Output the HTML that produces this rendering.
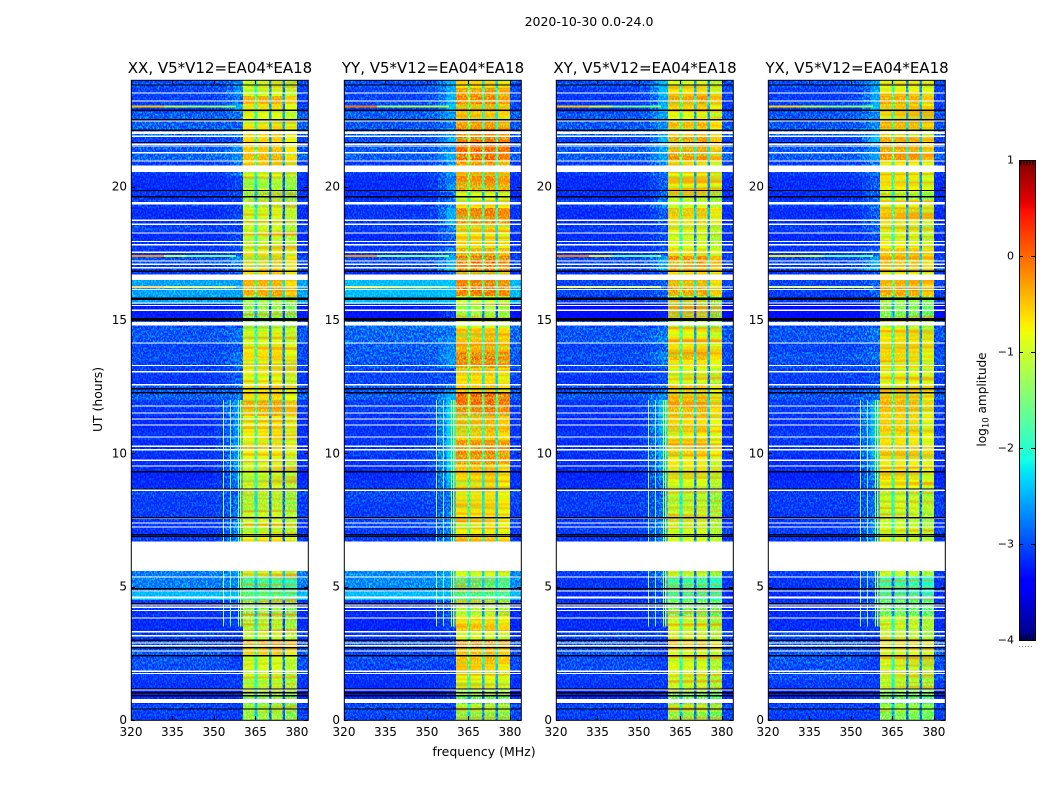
<!DOCTYPE html>
<html lang="en">
<head>
<meta charset="utf-8">
<title>2020-10-30 0.0-24.0 amplitude waterfall</title>
<style>
  html, body { margin: 0; padding: 0; background: #fff; }
  svg { display: block; }
  text { font-family: "DejaVu Sans", "Liberation Sans", sans-serif; fill: #000; }
  .heat rect { shape-rendering: crispEdges; }
  .crisp line, .crisp rect { shape-rendering: crispEdges; }
</style>
</head>
<body>
<svg id="chart" xmlns="http://www.w3.org/2000/svg" width="1050" height="800" viewBox="0 0 1050 800">
  <defs>
    <filter id="grain" x="0" y="0" width="100%" height="100%" color-interpolation-filters="sRGB">
      <feTurbulence type="fractalNoise" baseFrequency="0.62 0.42" numOctaves="2" seed="7"/>
      <feColorMatrix type="matrix" values="3.4 0 0 0 -1.4  3.4 0 0 0 -1.4  3.4 0 0 0 -1.4  0 0 0 0 0.62"/>
    </filter>
    <filter id="hot-streaks" x="0" y="0" width="100%" height="100%" color-interpolation-filters="sRGB">
      <feTurbulence type="fractalNoise" baseFrequency="0.008 0.3" numOctaves="1" seed="11"/>
      <feColorMatrix type="matrix" values="0 0 0 0 1  0 0 0 0 0.5  0 0 0 0 0  2.4 0 0 0 -1.1"/>
    </filter>
    <filter id="cool-streaks" x="0" y="0" width="100%" height="100%" color-interpolation-filters="sRGB">
      <feTurbulence type="fractalNoise" baseFrequency="0.01 0.35" numOctaves="1" seed="23"/>
      <feColorMatrix type="matrix" values="0 0 0 0 0.45  0 0 0 0 1  0 0 0 0 0.3  2.2 0 0 0 -1.1"/>
    </filter>
  </defs>
  <text x="589" y="26" font-size="12.5" text-anchor="middle">2020-10-30 0.0-24.0</text>
  <text x="484" y="756" font-size="12.5" text-anchor="middle">frequency (MHz)</text>
  <text x="0" y="0" font-size="12.4" text-anchor="middle" transform="translate(102,399.5) rotate(-90)">UT (hours)</text>
  <text x="0" y="0" font-size="12.1" text-anchor="middle" transform="translate(986,399.5) rotate(-90)">log<tspan font-size="8.5" dy="2.5">10</tspan><tspan dy="-2.5"> amplitude</tspan></text>
</svg>
<script>
// ---- shared axes ----
const panelTitles = ["XX, V5*V12=EA04*EA18", "YY, V5*V12=EA04*EA18", "XY, V5*V12=EA04*EA18", "YX, V5*V12=EA04*EA18"];
const xTicks = [320, 335, 350, 365, 380];
const yTicks = [0, 5, 10, 15, 20];
const cbarTicks = [1, 0, -1, -2, -3, -4];
const cbarTickLabels = ["1", "0", "\u22121", "\u22122", "\u22123", "\u22124"];

// ---- time rows (UT at top edge of each row, top of plot first) ----
const rowTopUT = [24,23.7,23.4,23.1,22.8,22.5,22.2,21.9,21.6,21.3,21,20.7,20.4,20.1,19.8,19.5,19.2,18.9,18.6,18.3,
  18,17.7,17.4,17.1,16.8,16.5,16.2,15.9,15.6,15.3,15,14.7,14.4,14.1,13.8,13.5,13.2,12.9,12.6,12.3,
  12,11.7,11.4,11.1,10.8,10.5,10.2,9.9,9.6,9.3,9,8.7,8.4,8.1,7.8,7.5,7.2,6.9,6.6,6.3,
  6,5.7,5.4,5.1,4.8,4.5,4.2,3.9,3.6,3.3,3,2.7,2.4,2.1,1.8,1.5,1.2,0.9,0.6,0.3];
const rowHours = 0.3;

// ---- frequency channels ----
const offFreqEdges = [320, 345, 350, 354, 357, 360.5];
const offMix = [0, 0.03, 0.15, 0.55, 1];
const goldFreqEdges = [360.5, 364.7, 365.7, 369.9, 370.8, 374.8, 375.7, 380];
const edgeFreqEnd = 384;

// ---- log10 amplitude by row: XX ----
const xxOff = [-2.9,-2.95,-3,-3,-2.8,-2.8,-2.75,-3,-2.85,-2.75,-3,-3,-3.1,-3.1,-3.05,-3,-3.1,-3.1,-2.95,-3.1,
  -3.05,-3.05,-2.9,-3,-3,-2.5,-2.5,-2.5,-3.2,-3.2,-2.9,-2.85,-2.85,-2.95,-2.9,-2.95,-3,-3.05,-2.85,-2.8,
  -3,-3.05,-3.1,-3.1,-3.05,-3.1,-3.05,-3.1,-3.1,-3.15,-3.1,-2.95,-3,-3,-3,-3.05,-3.05,-3,-3,-3,
  -3,-2.65,-2.65,-2.65,-2.4,-3,-3.05,-3.1,-3.1,-3,-2.85,-2.85,-2.85,-2.9,-3,-3.05,-3.2,-3.1,-2.95,-3];
const xxShoulder = [-2.6,-2.6,-2.7,-2.5,-2.7,-2.8,-2.6,-2.8,-2.6,-2.6,-2.7,-2.7,-2.95,-2.95,-2.95,-2.95,-2.95,-2.9,-2.95,-2.95,
  -2.9,-2.9,-2.6,-2.7,-2.9,-2.5,-2.5,-2.5,-3.1,-3.1,-2.85,-2.7,-2.7,-2.85,-2.7,-2.7,-2.85,-2.8,-2.7,-2.7,
  -2.55,-2.55,-2.55,-2.55,-2.6,-2.55,-2.55,-2.55,-2.55,-2.6,-2.7,-2.8,-2.7,-2.7,-2.7,-2.6,-2.6,-2.6,-2.6,-2.6,
  -2.6,-2.6,-2.6,-2.6,-2.4,-2.85,-2.95,-2.95,-3,-3,-2.95,-2.95,-3,-3,-3,-3,-3.1,-3,-3,-3];
const xxGold = [-1.1,-1,-0.6,-0.8,-1,-0.85,-0.8,-0.8,-0.7,-0.65,-0.8,-1,-1.2,-1.25,-1.4,-1.25,-1,-1.05,-1.1,-1.1,
  -1.05,-0.9,-0.7,-0.75,-0.8,-0.65,-0.6,-1.3,-1.4,-1.45,-1.3,-1,-1,-0.85,-0.8,-1,-0.95,-1,-0.85,-0.8,
  -0.6,-0.65,-0.9,-0.85,-0.9,-0.85,-0.9,-0.95,-1,-1.05,-1.1,-1.2,-1.25,-1.2,-1.1,-1.1,-1.05,-0.9,-1.1,-1.1,
  -1.1,-1.1,-2,-1.9,-1.9,-1.5,-1.4,-1.25,-1.2,-1.1,-0.6,-0.75,-1,-1.05,-1.1,-1.1,-1.3,-1.5,-1.3,-1.35];
const xxGoldOffset = [0.12, -1, 0.15, -1.7, 0.17, -1.8, 0];

// ---- YY ----
const yyOff = [-2.9,-2.95,-2.95,-2.95,-2.8,-2.85,-2.8,-2.9,-2.85,-2.8,-3,-3,-3.1,-3.1,-3.1,-3,-3.05,-3.05,-3,-3.1,
  -3.05,-3,-2.95,-3,-3.1,-2.4,-2.4,-2.4,-3.2,-3.25,-2.7,-2.75,-2.75,-2.8,-2.8,-2.85,-2.95,-2.95,-2.85,-2.8,
  -3,-3,-3.05,-3.05,-3.05,-3.05,-3,-3.05,-3.1,-3.1,-3.05,-2.9,-2.95,-3,-3,-2.95,-3,-3,-3,-3,
  -3,-2.6,-2.6,-2.6,-2.4,-3,-3.1,-3.15,-3.15,-3.05,-2.85,-2.95,-2.9,-2.95,-3.05,-3.1,-3.25,-3.1,-2.9,-2.95];
const yyShoulder = [-2.45,-2.45,-2.45,-2.35,-2.55,-2.65,-2.55,-2.45,-2.55,-2.45,-2.55,-2.55,-2.65,-2.55,-2.75,-2.65,-2.45,-2.45,-2.65,-2.75,
  -2.8,-2.65,-2.45,-2.45,-2.8,-2.35,-2.35,-2.35,-3,-3,-2.6,-2.7,-2.6,-2.6,-2.55,-2.55,-2.85,-2.85,-2.6,-2.45,
  -2.35,-2.3,-2.3,-2.3,-2.35,-2.3,-2.3,-2.3,-2.3,-2.35,-2.45,-2.7,-2.7,-2.7,-2.6,-2.6,-2.6,-2.6,-2.6,-2.6,
  -2.6,-2.5,-2.5,-2.5,-2.4,-2.75,-2.85,-2.95,-2.95,-3,-2.9,-2.9,-2.9,-3,-3,-3,-3.1,-3,-3,-3];
const yyGold = [-0.8,-0.5,-0.4,-0.6,-0.7,-0.5,-0.45,-0.25,-0.2,-0.3,-0.5,-0.6,-0.45,-0.5,-1,-0.8,-0.35,-0.4,-0.7,-0.85,
  -0.8,-0.55,-0.3,-0.4,-0.6,-0.35,-0.35,-1.1,-1.2,-1.3,-1,-0.7,-0.65,-0.6,-0.35,-0.4,-0.7,-0.8,-0.7,-0.25,
  -0.3,-0.35,-0.65,-0.6,-0.7,-0.45,-0.4,-0.45,-0.7,-0.75,-0.8,-0.85,-0.8,-0.8,-0.85,-0.85,-0.85,-0.7,-1,-1,
  -1,-1,-1.85,-1.75,-1.85,-1.35,-1.2,-0.8,-0.7,-1,-0.45,-0.65,-0.65,-0.8,-0.95,-1,-1.3,-1.6,-1.2,-1.4];
const yyGoldOffset = [0.12, -0.9, 0.12, -1.4, 0.14, -1.5, 0.04];

// ---- XY ----
const xyOff = [-2.9,-3,-3.05,-3.05,-2.85,-2.85,-2.8,-3,-2.85,-2.8,-3,-3,-3.1,-3.1,-3.1,-3,-3.1,-3.1,-3,-3.1,
  -3.05,-3.05,-2.95,-3,-3.05,-2.95,-2.95,-3,-3.3,-3.3,-2.9,-2.85,-2.85,-2.95,-2.9,-2.95,-3,-3.05,-2.9,-2.85,
  -3.05,-3.05,-3.1,-3.1,-3.05,-3.1,-3.05,-3.1,-3.1,-3.15,-3.1,-3,-3,-3,-3.05,-3.05,-3,-3.05,-3,-3,
  -3,-3,-3.05,-3.05,-3.1,-3.05,-3.1,-3.1,-3.1,-2.95,-2.85,-2.85,-2.9,-2.9,-3,-3.05,-3.2,-3.1,-2.95,-3];
const xyShoulder = [-2.4,-2.4,-2.5,-2.4,-2.5,-2.6,-2.5,-2.4,-2.5,-2.5,-2.6,-2.7,-2.8,-2.8,-2.8,-2.6,-2.8,-2.8,-2.9,-2.9,
  -2.9,-2.9,-2.5,-2.5,-2.9,-2.8,-2.8,-2.9,-3.2,-3.2,-2.8,-2.7,-2.6,-2.8,-2.6,-2.7,-2.9,-2.9,-2.7,-2.6,
  -2.4,-2.4,-2.4,-2.4,-2.5,-2.5,-2.4,-2.5,-2.5,-2.6,-2.7,-2.8,-2.7,-2.7,-2.7,-2.6,-2.6,-2.6,-2.6,-2.6,
  -2.6,-2.7,-2.8,-2.8,-2.9,-2.8,-2.9,-3,-3,-3,-3,-3,-3,-3,-3,-3,-3.1,-3,-3,-3];
const xyGold = [-1,-0.8,-0.5,-0.7,-0.9,-0.6,-0.75,-0.5,-0.55,-0.45,-0.8,-0.9,-0.8,-0.85,-1.2,-1,-0.65,-0.75,-1,-1.05,
  -1,-0.75,-0.45,-0.6,-0.8,-0.6,-0.5,-1.3,-1.35,-1.4,-1.2,-0.9,-0.85,-0.8,-0.6,-0.8,-0.95,-1,-0.7,-0.65,
  -0.55,-0.6,-0.8,-0.65,-0.85,-0.75,-0.7,-0.85,-0.9,-0.95,-1,-1.15,-1.2,-1.1,-1.1,-1.1,-1.05,-1,-1.1,-1.1,
  -1.1,-1.1,-2,-1.95,-1.95,-1.55,-1.5,-1.1,-1,-1.05,-0.7,-0.9,-1,-1,-1.05,-1.1,-1.4,-1.55,-1.15,-1.4];
const xyGoldOffset = [0.12, -1, 0.1, -1.6, 0.12, -1.7, -0.06];

// ---- YX ----
const yxOff = [-2.9,-3,-3,-3,-2.85,-2.85,-2.8,-3,-2.85,-2.8,-3,-3,-3.1,-3.1,-3.1,-3,-3.1,-3.1,-3,-3.1,
  -3.05,-3.05,-2.95,-3,-3.05,-2.95,-3,-3,-3.3,-3.3,-2.9,-2.85,-2.85,-2.95,-2.85,-2.9,-2.95,-3,-2.9,-2.85,
  -3,-3,-3.05,-3.05,-3,-3.05,-3.05,-3.1,-3.1,-3.15,-3.1,-3,-3,-3,-3.05,-3.05,-3,-3.05,-3,-3,
  -3,-3,-3.05,-3.05,-3.1,-3.05,-3.1,-3.1,-3.1,-2.95,-2.8,-2.85,-2.85,-2.9,-2.9,-3,-3.2,-3.1,-2.95,-3];
const yxShoulder = [-2.5,-2.5,-2.5,-2.4,-2.6,-2.6,-2.5,-2.4,-2.6,-2.5,-2.7,-2.7,-2.8,-2.8,-2.8,-2.7,-2.8,-2.8,-2.8,-2.9,
  -2.9,-2.8,-2.5,-2.5,-2.9,-2.8,-2.8,-2.9,-3.2,-3.2,-2.8,-2.7,-2.7,-2.8,-2.7,-2.8,-2.9,-2.9,-2.8,-2.7,
  -2.5,-2.4,-2.4,-2.4,-2.4,-2.5,-2.4,-2.5,-2.5,-2.6,-2.7,-2.8,-2.7,-2.7,-2.7,-2.6,-2.6,-2.6,-2.6,-2.6,
  -2.6,-2.7,-2.8,-2.8,-2.9,-2.8,-2.9,-3,-3,-3,-3,-3,-3,-3,-3,-3,-3.1,-3,-3,-3];
const yxGold = [-1,-0.85,-0.55,-0.7,-0.9,-0.6,-0.8,-0.6,-0.55,-0.5,-0.85,-0.9,-0.8,-0.85,-1.2,-0.95,-0.7,-0.8,-1,-1.05,
  -0.9,-0.7,-0.6,-0.7,-0.85,-0.6,-0.55,-1.3,-1.45,-1.5,-1.15,-0.85,-0.85,-0.8,-0.75,-0.85,-0.9,-0.9,-0.8,-0.7,
  -0.6,-0.7,-0.75,-0.7,-0.8,-0.8,-0.7,-0.85,-0.85,-0.75,-0.9,-1.15,-1.05,-1.05,-1.1,-1.1,-1,-1,-1.1,-1.1,
  -1.1,-1.1,-2.05,-2,-2.05,-1.6,-1.55,-1.1,-1.1,-1.1,-0.8,-0.9,-1.05,-1.05,-1.1,-1.15,-1.4,-1.65,-1.3,-1.45];
const yxGoldOffset = [0.12, -1, 0.12, -1.6, 0.1, -1.7, -0.03];

const panelOff = [xxOff, yyOff, xyOff, yxOff];
const panelShoulder = [xxShoulder, yyShoulder, xyShoulder, yxShoulder];
const panelGold = [xxGold, yyGold, xyGold, yxGold];
const panelGoldOffset = [xxGoldOffset, yyGoldOffset, xyGoldOffset, yxGoldOffset];

// ---- narrowband interference ----
const hLineUT = [23.05, 17.43, 16.28];
const hLineFreqEdges = [320, 332, 340, 357];
const xxHLines = [[-0.5,-1.1,-1.3,-1.6],[-0.2,-1,-1.5,-1.7],[-0.4,-0.9,-1,-1.1]];
const yyHLines = [[-0.1,-1.3,-1.2,-1],[-0.2,-1.3,-1.4,-1.2],[-0.8,-1,-1.4,-1.7]];
const xyHLines = [[-0.5,-0.9,-1.5,-1],[-0.1,-0.7,-1.6,-1],[-0.8,-0.9,-1,-1.2]];
const yxHLines = [[-0.6,-1.1,-1.4,-1.2],[-0.7,-0.9,-1.6,-1.1],[-1,-0.8,-1.1,-1.2]];
const panelHLines = [xxHLines, yyHLines, xyHLines, yxHLines];
const vLineFreq = [353.3, 355.8, 358.7, 359.4, 360];
const vLineLevel = [-1.2, -1.6, -1.3, -1.05, -1.2];
const vLineStartUT = 3.5;
const vLineEndUT = 12;

// ---- flagged data (shared by all panels) ----
const whiteRowUT = [23.54,23.24,22.49,22.06,22.02,21.91,21.62,21.55,21.3,20.99,19.43,19.39,18.76,18.61,18.29,17.97,17.85,17.56,17.24,17.11,
  16.99,16.26,16.17,15.66,15.57,15.39,14.16,13.32,13.08,12.6,11.8,11.54,11.31,11.09,10.64,10.29,10.16,9.76,9.55,8.64,
  7.58,7.41,7.26,5.39,4.86,4.35,4.13,3.85,3.33,3.18,2.91,2.81,2.61,1.85,1.77,1.16];
const whiteSpanStart = [20.55,16.5,14.79,5.59,4.55,4.2,0.64];
const whiteSpanEnd = [20.8,16.7,14.93,6.7,4.64,4.25,0.78];
const blackRowUT = [23.84,22.89,22.54,22.14,21.68,19.88,19.65,16.85,15.84,15.8,15.07,15.04,15.01,12.45,12.3,9.33,8.69,7.61,6.98,6.91,
  4.95,4.39,3.01,2.73,2.43,1.19,1.05,0.93,0.44];
const flagRowHours = 0.05;

// ---- figure geometry ----
const panelLeft = [131, 344, 556, 768];
const panelWidth = 177, plotTop = 80, plotBottom = 720;
const cbar = { x: 1019, w: 16, top: 160, bottom: 640 };

const svg = document.getElementById('chart');
const NS = 'http://www.w3.org/2000/svg';
function node(tag, attrs, parent) {
  const el = document.createElementNS(NS, tag);
  for (const k in attrs) el.setAttribute(k, attrs[k]);
  parent.appendChild(el);
  return el;
}
function lerpStops(stops, t) {
  if (t <= stops[0][0]) return stops[0][1];
  for (let i = 1; i < stops.length; i++) {
    if (t <= stops[i][0]) {
      const a = stops[i - 1], b = stops[i];
      return a[1] + (b[1] - a[1]) * (t - a[0]) / (b[0] - a[0]);
    }
  }
  return stops[stops.length - 1][1];
}
const jetR = [[0,0],[0.35,0],[0.66,1],[0.89,1],[1,0.5]];
const jetG = [[0,0],[0.125,0],[0.375,1],[0.64,1],[0.91,0],[1,0]];
const jetB = [[0,0.5],[0.11,1],[0.34,1],[0.65,0],[1,0]];
const vMin = -4, vMax = 1;
function color(v) {
  const t = Math.max(0, Math.min(1, (v - vMin) / (vMax - vMin)));
  const c = s => Math.round(lerpStops(s, t) * 255);
  return 'rgb(' + c(jetR) + ',' + c(jetG) + ',' + c(jetB) + ')';
}
const yScale = ut => plotBottom - ut * (plotBottom - plotTop) / 24;
const xScale = (p, f) => panelLeft[p] + (f - 320) * panelWidth / 64;

panelTitles.forEach((title, p) => {
  const left = panelLeft[p];
  const group = node('g', {}, svg);
  
  

  // heatmap cells
  const heat = node('g', { class: 'heat' }, group);
  
  
  rowTopUT.forEach((ut, i) => {
    const y0 = yScale(ut), y1 = yScale(ut - rowHours);
    const off = panelOff[p][i], sh = panelShoulder[p][i], gold = panelGold[p][i];
    for (let c = 0; c < offMix.length; c++) {
      const x0 = xScale(p, offFreqEdges[c]), x1 = xScale(p, offFreqEdges[c + 1]);
      const cell = node('rect', { x: x0, y: y0, width: x1 - x0, height: y1 - y0, fill: color(off + (sh - off) * offMix[c]) }, heat);
      
      
    }
    panelGoldOffset[p].forEach((d, c) => {
      const x0 = xScale(p, goldFreqEdges[c]), x1 = xScale(p, goldFreqEdges[c + 1]);
      const level = Math.max(gold + d, off + 0.3);
      const cell = node('rect', { x: x0, y: y0, width: x1 - x0, height: y1 - y0, fill: color(level) }, heat);
      
      
    });
    const ex0 = xScale(p, goldFreqEdges[goldFreqEdges.length - 1]), ex1 = xScale(p, edgeFreqEnd);
    const edge = node('rect', { x: ex0, y: y0, width: ex1 - ex0, height: y1 - y0, fill: color(off) }, heat);
    
    
  });

  // decorative texture: speckle everywhere, fine stripes across the four sub-bands
  const grain = node('rect', { x: left, y: plotTop, width: panelWidth, height: plotBottom - plotTop, filter: 'url(#grain)', style: 'mix-blend-mode:overlay' }, group);
  
  
  [0, 2, 4, 6].forEach(c => {
    const x0 = xScale(p, goldFreqEdges[c]), x1 = xScale(p, goldFreqEdges[c + 1]);
    const hot = node('rect', { x: x0, y: plotTop, width: x1 - x0, height: plotBottom - plotTop, filter: 'url(#hot-streaks)' }, group);
    
    
    const cool = node('rect', { x: x0, y: plotTop, width: x1 - x0, height: plotBottom - plotTop, filter: 'url(#cool-streaks)' }, group);
    
    
  });

  // interference lines
  const rfi = node('g', { class: 'crisp' }, group);
  
  
  hLineUT.forEach((ut, h) => {
    panelHLines[p][h].forEach((lvl, c) => {
      const f0 = hLineFreqEdges[c], f1 = c + 1 < hLineFreqEdges.length ? hLineFreqEdges[c + 1] : 358;
      const seg = node('rect', { x: xScale(p, f0), y: yScale(ut), width: xScale(p, f1) - xScale(p, f0), height: 2, fill: color(lvl) }, rfi);
      
      
    });
  });
  vLineFreq.forEach((f, v) => {
    const seg = node('rect', { x: xScale(p, f), y: yScale(vLineEndUT), width: 1, height: yScale(vLineStartUT) - yScale(vLineEndUT), fill: color(vLineLevel[v]) }, rfi);
    
    
  });

  // flagged rows
  const flags = node('g', { class: 'crisp' }, group);
  
  
  whiteSpanStart.forEach((s, i) => {
    const r = node('rect', { x: left, y: yScale(whiteSpanEnd[i]), width: panelWidth, height: yScale(s) - yScale(whiteSpanEnd[i]), fill: '#fff' }, flags);
    
    
  });
  whiteRowUT.forEach(ut => {
    const r = node('rect', { x: left, y: yScale(ut), width: panelWidth, height: flagRowHours * 26.667, fill: '#fff' }, flags);
    
    
  });
  blackRowUT.forEach(ut => {
    const r = node('rect', { x: left, y: yScale(ut), width: panelWidth, height: flagRowHours * 26.667, fill: '#000' }, flags);
    
    
  });

  // frame
  const frame = node('rect', { x: left + 0.3, y: plotTop + 0.3, width: panelWidth, height: plotBottom - plotTop, fill: 'none', stroke: '#000', 'stroke-width': 1 }, group);
  
  

  // ticks
  const axes = node('g', { class: 'crisp' }, group);
  
  
  xTicks.forEach(tv => {
    const x = Math.round(xScale(p, tv)) + 0.5;
    const t1 = node('line', { x1: x, x2: x, y1: plotBottom, y2: plotBottom - 4, stroke: '#000' }, axes);
    
    
    const t2 = node('line', { x1: x, x2: x, y1: plotTop, y2: plotTop + 4, stroke: '#000' }, axes);
    
    
    const lab = node('text', { x: xScale(p, tv), y: 736, 'font-size': 12, 'text-anchor': 'middle' }, axes);
    lab.textContent = String(tv);
    
    
  });
  yTicks.forEach(tv => {
    const y = Math.round(yScale(tv)) + 0.5;
    const t1 = node('line', { x1: left, x2: left + 4, y1: y, y2: y, stroke: '#000' }, axes);
    
    
    const t2 = node('line', { x1: left + panelWidth, x2: left + panelWidth - 4, y1: y, y2: y, stroke: '#000' }, axes);
    
    
    const lab = node('text', { x: left - 4, y: yScale(tv) + 4, 'font-size': 12, 'text-anchor': 'end' }, axes);
    lab.textContent = String(tv);
    
    
  });

  const tt = node('text', { x: left + panelWidth / 2 + 0.5, y: 73, 'font-size': 15, 'text-anchor': 'middle' }, group);
  tt.textContent = title;
  
  
});

// colorbar
const cb = node('g', { class: 'crisp' }, svg);


const cbScale = v => cbar.bottom - (v - vMin) * (cbar.bottom - cbar.top) / (vMax - vMin);
for (let y = cbar.top; y < cbar.bottom; y += 2) {
  const v = vMin + (cbar.bottom - y - 1) * (vMax - vMin) / (cbar.bottom - cbar.top);
  const s = node('rect', { x: cbar.x, y: y, width: cbar.w, height: 2, fill: color(v) }, cb);
  
  
}
const cbFrame = node('rect', { x: cbar.x + 0.5, y: cbar.top + 0.5, width: cbar.w, height: cbar.bottom - cbar.top, fill: 'none', stroke: '#000' }, cb);


cbarTicks.forEach((tv, i) => {
  const y = Math.round(cbScale(tv)) + 0.5;
  const a = node('line', { x1: cbar.x, x2: cbar.x + 4, y1: y, y2: y, stroke: '#000' }, cb);
  
  
  const b = node('line', { x1: cbar.x + cbar.w, x2: cbar.x + cbar.w - 4, y1: y, y2: y, stroke: '#000' }, cb);
  
  
  const lab = node('text', { x: cbar.x - 5, y: cbScale(tv) + 3.5, 'font-size': 11, 'text-anchor': 'end' }, cb);
  lab.textContent = cbarTickLabels[i];
  
  
});
[2, 5, 8, 11, 14].forEach(dx => {
  const a = node('line', { x1: cbar.x + dx, x2: cbar.x + dx, y1: cbar.top, y2: cbar.top + 5, stroke: '#000' }, cb);
  
  
  const b = node('line', { x1: cbar.x + dx, x2: cbar.x + dx, y1: cbar.bottom, y2: cbar.bottom - 5, stroke: '#000' }, cb);
  
  
  const d = node('rect', { x: cbar.x + dx - 2, y: 646, width: 1, height: 1, fill: '#888' }, cb);
  
  
});
</script>
</body>
</html>
